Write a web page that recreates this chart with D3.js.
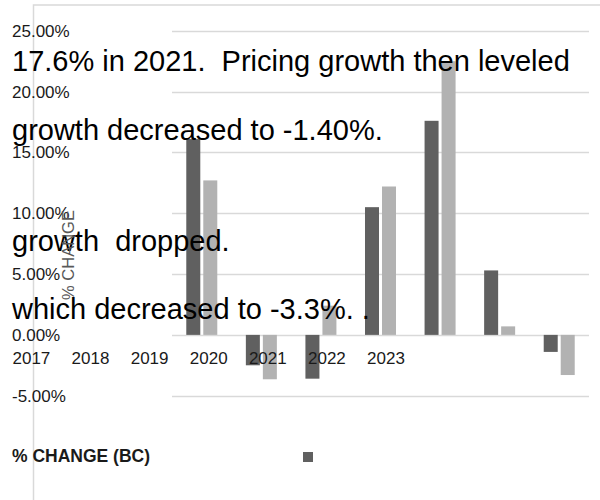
<!DOCTYPE html>
<html>
<head>
<meta charset="utf-8">
<script src="https://cdn.jsdelivr.net/npm/d3@7/dist/d3.min.js"></script>
<style>
  html, body { margin: 0; padding: 0; background: #fff; }
  svg { display: block; font-family: "Liberation Sans", Arial, sans-serif; }
  .pre { white-space: pre; }
</style>
</head>
<body>
<svg id="chart" width="600" height="500"></svg>
<script>
// Years on the category axis
const years = ["2017", "2018", "2019", "2020", "2021", "2022", "2023"];
// Year-over-year % change, two series
const seriesNames = ["BC", "Other"];
const bcChange = [16.1, -2.5, -3.6, 10.5, 17.6, 5.3, -1.4];
const otherChange = [12.7, -3.65, 2.4, 12.2, 22.5, 0.7, -3.3];
// Value axis ticks (percent)
const yTicks = [-5, 0, 5, 10, 15, 20, 25];
// Commentary lines laid over the plot
const notes = [
  "17.6% in 2021.  Pricing growth then leveled",
  "growth decreased to -1.40%.",
  "growth  dropped.",
  "which decreased to -3.3%. ."
];
const noteBaselines = [71, 139.5, 250.5, 318.5];
const legendLabel = "% CHANGE (BC)";
const axisTitle = "% CHANGE";

const svg = d3.select("#chart");
const colors = { BC: "#606060", Other: "#b2b2b2" };
const grid = "#d9d9d9";

// Outer frame (top and left edges)
svg.append("path")
  .attr("d", "M33.5,500V5H600")
  .attr("fill", "none")
  .attr("stroke", grid)
  .attr("stroke-width", 1.5);

const y = d3.scaleLinear().domain([-5, 25]).range([395.7, 30.8]);
const x = d3.scaleBand().domain(years).range([172, 589]).padding(0);
const xInner = d3.scaleBand().domain(seriesNames)
  .range([0, x.bandwidth()]).paddingInner(3 / 17).paddingOuter(0.84);

// Gridlines
svg.append("g").selectAll("line")
  .data(yTicks).join("line")
  .attr("x1", 172).attr("x2", 589)
  .attr("y1", d => Math.round(y(d)) + 0.5)
  .attr("y2", d => Math.round(y(d)) + 0.5)
  .attr("stroke", grid)
  .attr("stroke-width", 1.4);

// Value tick labels (plain hyphen for negatives)
const fmt = d3.formatLocale({ decimal: ".", thousands: ",", grouping: [3], currency: ["", ""], minus: "-" }).format(".2f");
svg.append("g").selectAll("text")
  .data(yTicks).join("text")
  .attr("x", 12)
  .attr("y", d => y(d) + 6)
  .attr("font-size", 17)
  .attr("fill", "#1a1a1a")
  .text(d => fmt(d) + "%");

// Bars
const rows = years.map((yr, i) => ({ year: yr, BC: bcChange[i], Other: otherChange[i] }));
const groups = svg.append("g").selectAll("g")
  .data(rows).join("g")
  .attr("transform", d => `translate(${x(d.year)},0)`);
groups.selectAll("rect")
  .data(d => seriesNames.map(k => ({ key: k, value: d[k] })))
  .join("rect")
  .attr("x", d => xInner(d.key))
  .attr("width", xInner.bandwidth())
  .attr("y", d => y(Math.max(0, d.value)))
  .attr("height", d => Math.abs(y(d.value) - y(0)))
  .attr("fill", d => colors[d.key]);

// Category labels, drawn over the bars
const xLab = d3.scalePoint().domain(years).range([12.5, 12.5 + 6 * 59.1]);
svg.append("g").selectAll("text")
  .data(years).join("text")
  .attr("x", d => xLab(d))
  .attr("y", 364)
  .attr("font-size", 17)
  .attr("fill", "#1a1a1a")
  .text(d => d);

// Commentary text
svg.append("g").selectAll("text")
  .data(notes).join("text")
  .attr("class", "pre")
  .attr("x", 12)
  .attr("y", (d, i) => noteBaselines[i])
  .attr("font-size", 29)
  .attr("fill", "#000")
  .text(d => d);

// Rotated value-axis title
svg.append("text")
  .attr("transform", "translate(73.5,255) rotate(-90)")
  .attr("text-anchor", "middle")
  .attr("font-size", 16.5)
  .attr("fill", "#595959")
  .text(axisTitle);

// Legend
svg.append("text")
  .attr("x", 12).attr("y", 462)
  .attr("font-size", 17.5)
  .attr("font-weight", "bold")
  .attr("fill", "#1a1a1a")
  .text(legendLabel);
svg.append("rect")
  .attr("x", 303).attr("y", 452)
  .attr("width", 10).attr("height", 10)
  .attr("fill", colors.BC);
</script>
</body>
</html>
